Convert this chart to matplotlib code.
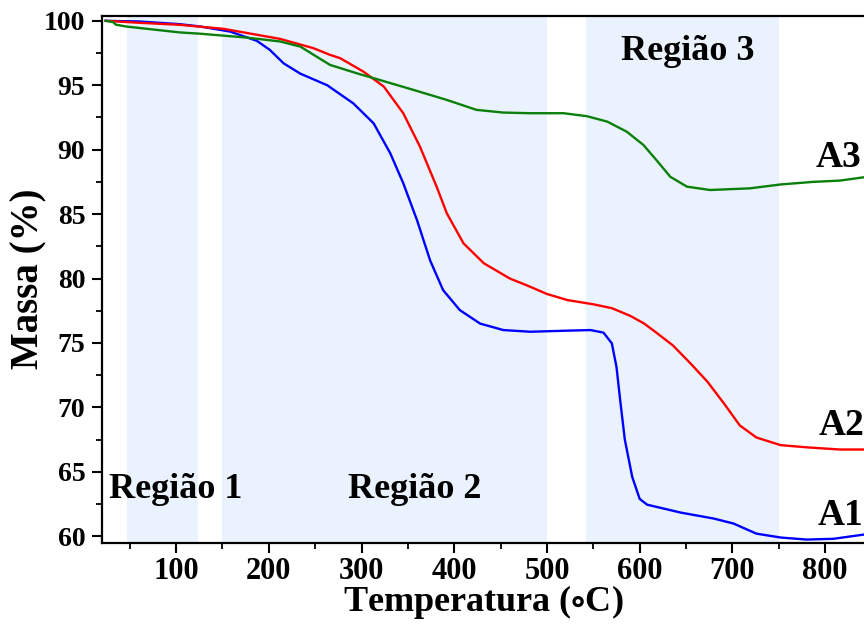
import matplotlib
matplotlib.use("Agg")
from matplotlib import pyplot as plt
from matplotlib.ticker import MultipleLocator

# --- data (temperature in C, mass in %) ---
t_a1 = [24, 60, 104, 126, 158, 187, 201, 216, 234, 263, 291, 313, 331, 345, 360,
        374, 388, 406, 428, 453, 482, 520, 547, 561, 570, 575, 579, 584, 592, 600,
        608, 644, 680, 701, 726, 752, 780, 809, 842]
m_a1 = [100, 99.95, 99.74, 99.56, 99.17, 98.45, 97.75, 96.7, 95.9, 95.0, 93.6, 92.05,
        89.72, 87.4, 84.5, 81.4, 79.1, 77.55, 76.5, 76.0, 75.87, 75.95, 76.0, 75.8,
        74.97, 73.15, 70.56, 67.5, 64.6, 62.9, 62.45, 61.84, 61.37, 60.99, 60.2,
        59.9, 59.74, 59.8, 60.13]

t_a2 = [24, 60, 104, 151, 212, 248, 266, 277, 302, 324, 345, 363, 381, 392, 410,
        432, 460, 482, 500, 522, 550, 570, 590, 605, 618, 636, 655, 673, 691, 708,
        726, 752, 780, 816, 842]
m_a2 = [100, 99.85, 99.69, 99.38, 98.6, 97.88, 97.36, 97.1, 96.06, 94.9, 92.83,
        90.24, 87.13, 85.06, 82.73, 81.18, 80.0, 79.36, 78.8, 78.33, 78.0, 77.7,
        77.1, 76.5, 75.8, 74.8, 73.4, 72.0, 70.3, 68.6, 67.66, 67.07, 66.9, 66.73,
        66.73]

t_a3 = [24, 32, 35, 47, 104, 126, 176, 212, 234, 252, 266, 298, 313, 356, 392,
        424, 453, 482, 518, 543, 565, 586, 604, 618, 633, 651, 676, 719, 752, 787,
        816, 842]
m_a3 = [100, 99.9, 99.7, 99.55, 99.1, 99.0, 98.7, 98.4, 98.0, 97.2, 96.58, 95.86,
        95.55, 94.64, 93.86, 93.09, 92.88, 92.83, 92.83, 92.6, 92.18, 91.4, 90.37,
        89.2, 87.9, 87.13, 86.87, 87.0, 87.3, 87.5, 87.6, 87.86]

regions = [(47, 124), (150, 500), (542, 750)]
region_names = ["Região 1", "Região 2", "Região 3"]
region_text_pos = [(100, 63.6), (357, 63.6), (652, 97.6)]

curve_names = ["A1", "A2", "A3"]
curve_text_pos = [(792, 61.6), (793, 68.6), (790, 89.4)]

plt.rcParams['font.family'] = ['Liberation Serif', 'DejaVu Serif']
plt.rcParams['font.weight'] = 'bold'
plt.rcParams['mathtext.fontset'] = 'stix'

fig = plt.figure(figsize=(8.64, 6.27), dpi=100)
ax = fig.add_axes([0.118, 0.1345, 0.882, 0.8405])

# shaded regions
for lo, hi in regions:
    ax.axvspan(lo, hi, color='#eaf2fd', lw=0, zorder=0)

ax.plot(t_a1, m_a1, color='#0000ff', lw=1.7)
ax.plot(t_a2, m_a2, color='#ff0000', lw=1.7)
ax.plot(t_a3, m_a3, color='#0a800a', lw=1.7)

for name, (x, y) in zip(region_names, region_text_pos):
    ax.text(x, y, name, fontsize=26, fontweight='bold', ha='center', va='center')

for name, (x, y) in zip(curve_names, curve_text_pos):
    ax.text(x, y, name, fontsize=27, fontweight='bold', ha='left', va='center',
            clip_on=False)

ax.set_xlim(20, 842)
ax.set_ylim(59.5, 100.4)
ax.xaxis.set_major_locator(MultipleLocator(100))
ax.xaxis.set_minor_locator(MultipleLocator(50))
ax.yaxis.set_major_locator(MultipleLocator(5))
ax.yaxis.set_minor_locator(MultipleLocator(2.5))

ax.spines['right'].set_visible(False)
for s in ['left', 'bottom', 'top']:
    ax.spines[s].set_linewidth(1.6)
ax.tick_params(which='major', direction='out', length=7, width=1.5)
ax.tick_params(which='minor', direction='out', length=4, width=1.3)
ax.tick_params(axis='x', which='major', labelsize=22)
ax.tick_params(axis='y', which='major', labelsize=20, pad=5)
ax.tick_params(top=False, which='both')

ax.set_xlabel(r"Temperatura ($\circ$C)", fontsize=26, fontweight='bold', labelpad=-2)
ax.set_ylabel("Massa (%)", fontsize=28, fontweight='bold')
ax.yaxis.set_label_coords(-0.072, 0.5)

fig.savefig("out.png", dpi=100)
